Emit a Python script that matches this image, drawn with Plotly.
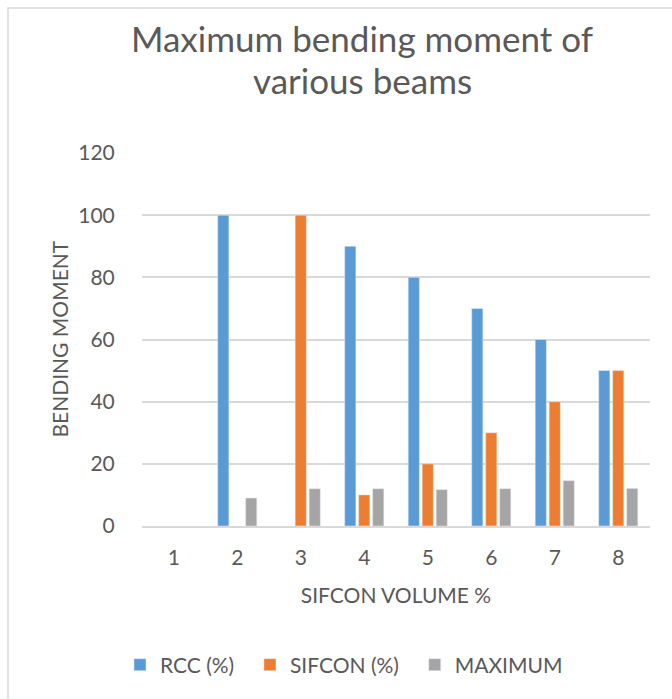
import plotly.graph_objects as go

categories = ["1", "2", "3", "4", "5", "6", "7", "8"]
rcc = [None, 100, None, 90, 80, 70, 60, 50]
sifcon = [None, None, 100, 10, 20, 30, 40, 50]
maximum = [None, 9, 12, 12, 11.7, 12, 14.6, 12.1]
y_ticks = [0, 20, 40, 60, 80, 100, 120]
series_names = ["RCC (%)", "SIFCON (%)", "MAXIMUM"]
title_lines = ["Maximum bending moment of", "various beams"]

FONT = "Lato"
TXT = "#595959"
GRID = "#d9d9d9"
FS = 21
NB = "\u00a0\u00a0"

fig = go.Figure()
fig.add_trace(go.Bar(name=series_names[0] + NB, x=categories, y=rcc, marker_color="#5B9BD5"))
fig.add_trace(go.Bar(name=series_names[1] + NB, x=categories, y=sifcon, marker_color="#ED7D31"))
fig.add_trace(go.Bar(name=series_names[2], x=categories, y=maximum, marker_color="#A5A5A5"))

L, R, T, B = 142, 22, 153, 173
pw, ph = 672 - L - R, 699 - T - B

def px_x(p):
    return (p - L) / pw

def px_y(p):
    return (699 - B - p) / ph

annotations = [
    dict(text=title_lines[0], x=px_x(362), xref="paper", y=px_y(38), yref="paper",
         xanchor="center", yanchor="middle", showarrow=False,
         font=dict(family=FONT, size=35, color=TXT)),
    dict(text=title_lines[1], x=px_x(362), xref="paper", y=px_y(80), yref="paper",
         xanchor="center", yanchor="middle", showarrow=False,
         font=dict(family=FONT, size=35, color=TXT)),
    dict(text="BENDING MOMENT", x=px_x(59), xref="paper", y=0.5, yref="paper",
         xanchor="center", yanchor="middle", showarrow=False, textangle=-90,
         font=dict(family=FONT, size=FS, color=TXT)),
]

fig.update_layout(
    width=672, height=699,
    margin=dict(l=L, r=R, t=T, b=B),
    paper_bgcolor="white", plot_bgcolor="white",
    barmode="group", bargap=0.34, bargroupgap=0.2,
    font=dict(family=FONT, color=TXT, size=FS),
    showlegend=True,
    legend=dict(orientation="h", x=344 / 672, xanchor="center", xref="container",
                y=1 - 665 / 699, yanchor="middle", yref="container",
                font=dict(size=FS, color=TXT), itemwidth=30),
    xaxis=dict(type="category", showgrid=False, showline=True, linecolor=GRID, linewidth=1.5,
               ticks="outside", ticklen=12, tickcolor="rgba(0,0,0,0)",
               tickfont=dict(size=FS, color=TXT),
               title=dict(text="SIFCON VOLUME %", font=dict(size=FS, color=TXT), standoff=20)),
    yaxis=dict(range=[0, 120], tickvals=y_ticks, showgrid=True, gridcolor=GRID, gridwidth=1.5,
               zeroline=False, ticks="outside", ticklen=22, tickcolor="rgba(0,0,0,0)",
               tickfont=dict(size=FS, color=TXT)),
    annotations=annotations,
    shapes=[dict(type="rect", xref="paper", yref="paper",
                 x0=px_x(8), x1=px_x(720), y0=px_y(760), y1=px_y(8),
                 line=dict(color=GRID, width=1.5), layer="below")],
)

fig.write_html("out.html")
